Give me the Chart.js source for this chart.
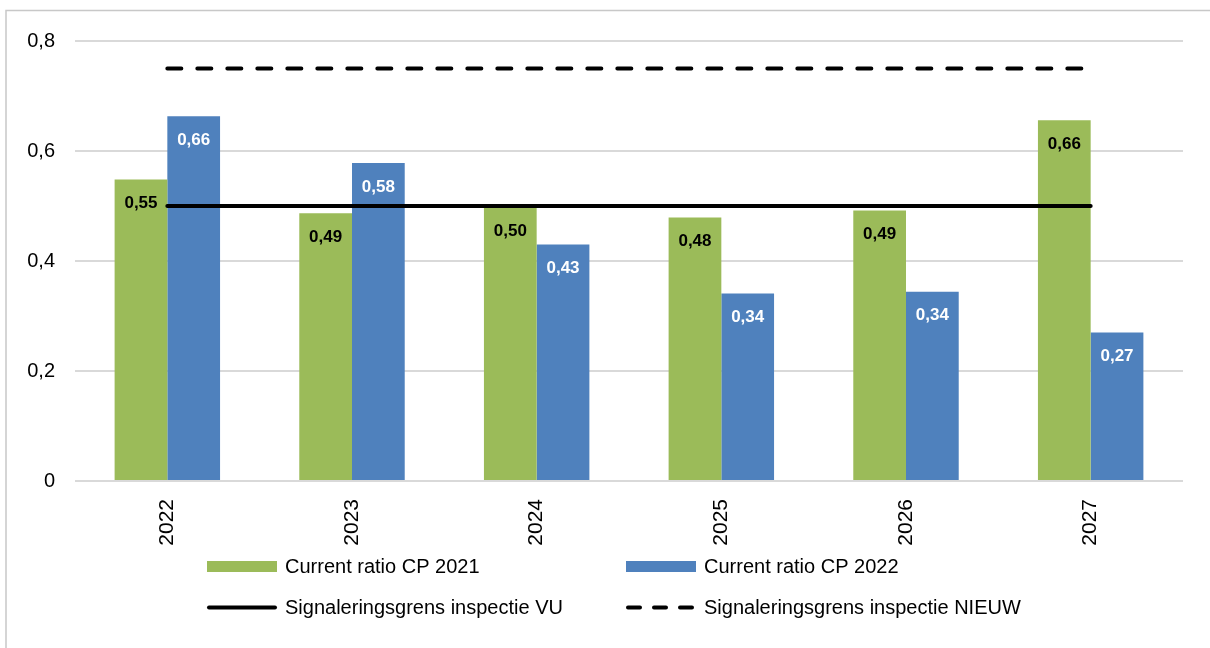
<!DOCTYPE html>
<html>
<head>
<meta charset="utf-8">
<script src="https://cdn.jsdelivr.net/npm/chart.js@4.4.0/dist/chart.umd.min.js"></script>
<style>
  html, body { margin: 0; padding: 0; background: #ffffff; }
  #wrap { position: relative; width: 1210px; height: 648px; }
  canvas { display: block; }
</style>
</head>
<body>
<div id="wrap"><canvas id="c" width="1210" height="648"></canvas></div>
<script>
const categories = ['2022', '2023', '2024', '2025', '2026', '2027'];
const seriesCP2021 = [0.548, 0.487, 0.497, 0.479, 0.492, 0.656];
const seriesCP2022 = [0.663, 0.578, 0.430, 0.341, 0.344, 0.270];
const grensVU = [0.5, 0.5, 0.5, 0.5, 0.5, 0.5];
const grensNieuw = [0.75, 0.75, 0.75, 0.75, 0.75, 0.75];
const yTicks = [0, 0.2, 0.4, 0.6, 0.8];
const seriesNames = ['Current ratio CP 2021', 'Current ratio CP 2022', 'Signaleringsgrens inspectie VU', 'Signaleringsgrens inspectie NIEUW'];

const GREEN = '#9BBB59';
const BLUE = '#4F81BD';
const FONT = '"Liberation Sans", Arial, sans-serif';

function fmt(v) { return v.toFixed(2).replace('.', ','); }

const frame = {
  id: 'frame',
  beforeDraw(chart) {
    const ctx = chart.ctx;
    ctx.save();
    ctx.fillStyle = '#ffffff';
    ctx.fillRect(0, 0, chart.width, chart.height);
    ctx.strokeStyle = '#C8C8C8';
    ctx.lineWidth = 1.5;
    ctx.strokeRect(6, 10.5, chart.width + 10, chart.height + 10);
    ctx.restore();
  }
};

const barLabels = {
  id: 'barLabels',
  afterDatasetsDraw(chart) {
    const ctx = chart.ctx;
    ctx.save();
    ctx.font = 'bold 17px ' + FONT;
    ctx.textAlign = 'center';
    ctx.textBaseline = 'middle';
    chart.data.datasets.forEach((ds, i) => {
      if (ds.type !== 'bar') return;
      const meta = chart.getDatasetMeta(i);
      ctx.fillStyle = ds.labelColor;
      meta.data.forEach((el, j) => {
        ctx.fillText(fmt(ds.data[j]), el.x, el.y + 24);
      });
    });
    ctx.restore();
  }
};

const customLegend = {
  id: 'customLegend',
  afterDraw(chart) {
    const ctx = chart.ctx;
    const ds = chart.data.datasets;
    const cols = [207, 626];
    const rows = [566, 607];
    ctx.save();
    ctx.font = '20px ' + FONT;
    ctx.textBaseline = 'middle';
    ctx.textAlign = 'left';
    ds.forEach((d, i) => {
      const x = cols[i % 2];
      const y = rows[Math.floor(i / 2)];
      if (d.type === 'bar') {
        ctx.fillStyle = d.backgroundColor;
        ctx.fillRect(x, y - 5, 70, 11);
      } else {
        ctx.strokeStyle = d.borderColor;
        ctx.lineWidth = 4;
        ctx.lineCap = 'round';
        ctx.setLineDash(d.borderDash ? [12, 14] : []);
        ctx.beginPath();
        ctx.moveTo(x + 2, y + 0.5);
        ctx.lineTo(x + 68, y + 0.5);
        ctx.stroke();
        ctx.setLineDash([]);
      }
      ctx.fillStyle = '#000000';
      ctx.fillText(d.label, x + 78, y + 1);
    });
    ctx.restore();
  }
};

new Chart(document.getElementById('c'), {
  data: {
    labels: categories,
    datasets: [
      { type: 'bar', label: seriesNames[0], data: seriesCP2021, backgroundColor: GREEN, labelColor: '#000000', order: 2 },
      { type: 'bar', label: seriesNames[1], data: seriesCP2022, backgroundColor: BLUE, labelColor: '#ffffff', order: 2 },
      { type: 'line', label: seriesNames[2], data: grensVU, borderColor: '#000000', borderWidth: 4, pointRadius: 0, borderCapStyle: 'round', fill: false, order: 1 },
      { type: 'line', label: seriesNames[3], data: grensNieuw, borderColor: '#000000', borderWidth: 4, borderDash: [14, 16], pointRadius: 0, borderCapStyle: 'round', fill: false, order: 1 }
    ]
  },
  options: {
    responsive: false,
    animation: false,
    events: [],
    layout: { padding: { left: 0, right: 27, top: 41, bottom: 0 } },
    datasets: { bar: { categoryPercentage: 0.571, barPercentage: 1.0 } },
    plugins: { legend: { display: false }, tooltip: { enabled: false } },
    scales: {
      x: {
        grid: { display: false },
        border: { display: false },
        ticks: {
          minRotation: 90, maxRotation: 90, padding: 10,
          color: '#000000', font: { family: FONT, size: 21 }
        },
        afterFit(scale) { scale.height = 167; }
      },
      y: {
        min: 0, max: 0.8,
        afterBuildTicks(scale) { scale.ticks = yTicks.map(v => ({ value: v })); },
        grid: { color: '#D9D9D9', lineWidth: 2, drawTicks: false },
        border: { display: false },
        ticks: {
          padding: 20, color: '#000000', font: { family: FONT, size: 20 },
          callback: v => (v === 0 ? '0' : String(v).replace('.', ','))
        },
        afterFit(scale) { scale.width = 75; }
      }
    }
  },
  plugins: [frame, barLabels, customLegend]
});
</script>
</body>
</html>
